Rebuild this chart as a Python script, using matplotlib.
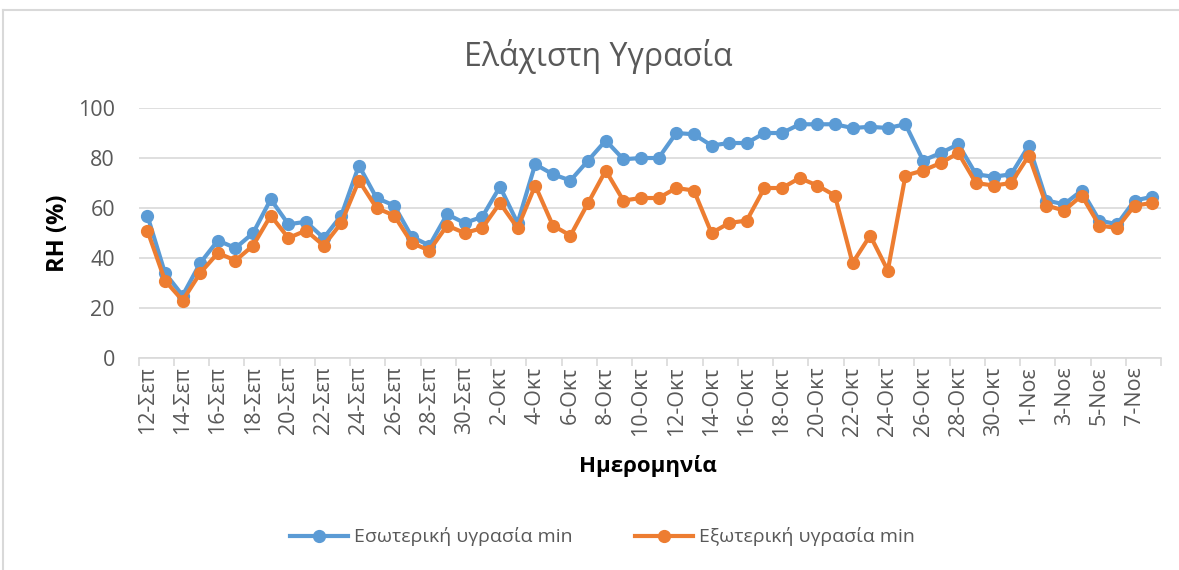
import matplotlib
matplotlib.use("Agg")
import matplotlib.pyplot as plt
from matplotlib.lines import Line2D
import numpy as np

plt.rcParams['font.family'] = ['Open Sans', 'DejaVu Sans']

# --- data ---
dates = ([f"{d}-Σεπ" for d in range(12, 31)] +
         [f"{d}-Οκτ" for d in range(1, 32)] +
         [f"{d}-Νοε" for d in range(1, 9)])

rh_in = [57, 34, 25, 38, 47, 44, 50, 63.5, 53.5, 54.5, 48, 57, 77, 64,
         61, 48.5, 45, 57.5, 54, 56.5, 68.5, 54, 77.5, 73.5, 71, 79, 87,
         79.5, 80, 80, 90, 89.5, 85, 86, 86, 90, 90, 93.5, 93.5, 93.5, 92,
         92.5, 92, 93.5, 79, 82, 85.5, 73.5, 72.5, 73.5, 85, 63, 61.5, 67,
         55, 53.5, 63, 64.5]
rh_out = [51, 31, 23, 34, 42, 39, 45, 57, 48, 51, 45, 54, 71, 60,
          57, 46, 43, 53, 50, 52, 62, 52, 69, 53, 49, 62, 75, 63, 64,
          64, 68, 67, 50, 54, 55, 68, 68, 72, 69, 65, 38, 49, 35, 73, 75,
          78, 82, 70, 69, 70, 81, 61, 59, 65, 53, 52, 61, 62]

label_in = "Εσωτερική υγρασία min"
label_out = "Εξωτερική υγρασία min"

BLUE = "#5B9BD5"
ORANGE = "#ED7D31"
GRAY_TXT = "#595959"
GRID = "#D9D9D9"

fig = plt.figure(figsize=(11.79, 5.70), dpi=100)
ax = fig.add_axes([0.1175, 0.3719, 0.8673, 0.4386])

x = np.arange(len(dates))
ax.plot(x, rh_in, color=BLUE, lw=3, marker='o', ms=8.5, label=label_in, zorder=3)
ax.plot(x, rh_out, color=ORANGE, lw=3, marker='o', ms=8.5, label=label_out, zorder=4)

ax.set_xlim(-0.5, len(dates) - 0.5)
ax.set_ylim(0, 100)
ax.set_yticks(np.arange(0, 101, 20))
ax.yaxis.grid(True, color=GRID, lw=1.2)
ax.set_axisbelow(True)
for s in ['top', 'right', 'left']:
    ax.spines[s].set_visible(False)
ax.spines['bottom'].set_color(GRID)
ax.spines['bottom'].set_linewidth(1.2)

ax.set_xticks(x[::2])
ax.set_xticklabels(dates[::2], rotation=90)
ax.set_xticks(np.arange(-0.5, len(dates), 2), minor=True)
ax.tick_params(axis='x', which='major', length=0, pad=6, labelsize=15.5, labelcolor=GRAY_TXT)
ax.tick_params(axis='x', which='minor', length=6, color=GRID, width=1.2)
ax.tick_params(axis='y', length=0, pad=17, labelsize=15.5, labelcolor=GRAY_TXT)

ax.set_ylabel("RH (%)", fontsize=17, fontweight='bold', va='center')
ax.yaxis.set_label_coords(-0.079, 0.5)
ax.set_xlabel("Ημερομηνία", fontsize=16, fontweight='bold', va='center')
ax.xaxis.set_label_coords(0.498, -0.432)

fig.text(598 / 1179, 0.9, "Ελάχιστη Υγρασία", fontsize=23, color=GRAY_TXT,
         ha='center', va='center')

fig.legend(loc='center', bbox_to_anchor=(0.511, 0.058), ncol=2, frameon=False,
           fontsize=14, labelcolor=GRAY_TXT, handlelength=3.0, columnspacing=3.2,
           handletextpad=0.3)

# outer chart border (cropped)
fig.add_artist(Line2D([3 / 1179, 1.0], [1 - 10 / 570, 1 - 10 / 570],
                      transform=fig.transFigure, color=GRID, lw=1.5))
fig.add_artist(Line2D([3 / 1179, 3 / 1179], [0, 1 - 10 / 570],
                      transform=fig.transFigure, color=GRID, lw=1.5))

fig.savefig("out.png", dpi=100)
